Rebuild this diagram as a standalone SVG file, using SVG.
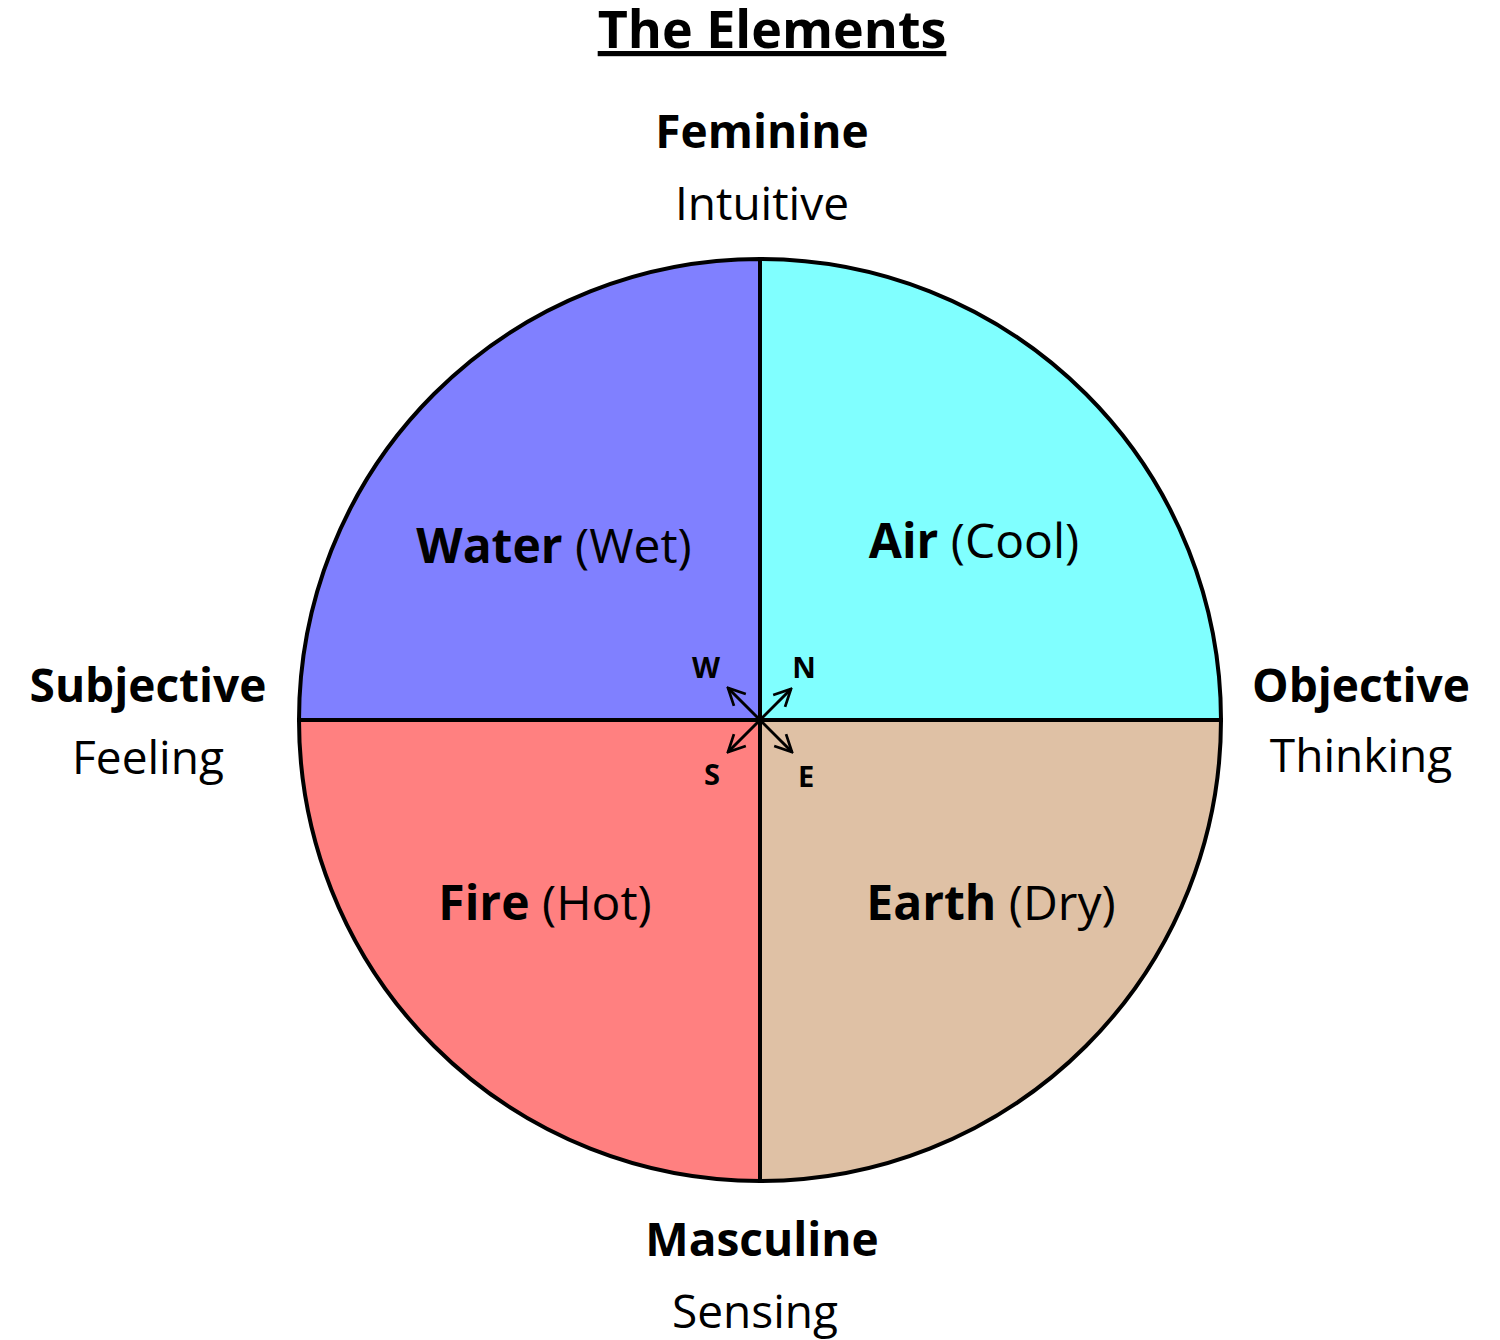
<svg xmlns="http://www.w3.org/2000/svg" width="1500" height="1340" viewBox="0 0 1500 1340">
<defs>
<style>
text{font-family:"Open Sans","Noto Sans",sans-serif;fill:#000;text-anchor:middle}
.b{font-weight:bold}
.big{font-size:48px}
.lab{font-size:46px}
.q{stroke:#000;stroke-width:4}
.ar{stroke:#000;stroke-width:3;fill:none}
</style>
<marker id="ah" viewBox="0 0 10 10" refX="9" refY="5" markerWidth="7" markerHeight="7" orient="auto"><path d="M1,1 L9,5 L1,9" fill="none" stroke="#000" stroke-width="1.3"/></marker>
</defs>
<text x="772" y="48" class="b" font-size="52" text-decoration="underline">The Elements</text>
<g id="water"><path class="q" d="M760,720 L299,720 A461,461 0 0 1 760,259 Z" fill="#8080ff"/><text x="554" y="563" class="big"><tspan class="b">Water</tspan> (Wet)</text></g>
<g id="air"><path class="q" d="M760,720 L760,259 A461,461 0 0 1 1221,720 Z" fill="#80ffff"/><text x="974" y="558" class="big"><tspan class="b">Air</tspan> (Cool)</text></g>
<g id="fire"><path class="q" d="M760,720 L760,1181 A461,461 0 0 1 299,720 Z" fill="#ff8080"/><text x="545" y="920" class="big"><tspan class="b">Fire</tspan> (Hot)</text></g>
<g id="earth"><path class="q" d="M760,720 L1221,720 A461,461 0 0 1 760,1181 Z" fill="#dfc1a5"/><text x="991" y="920" class="big"><tspan class="b">Earth</tspan> (Dry)</text></g>
<g id="connectors">
<line class="ar" x1="760" y1="720" x2="728" y2="688" marker-end="url(#ah)"/>
<line class="ar" x1="760" y1="720" x2="791" y2="689" marker-end="url(#ah)"/>
<line class="ar" x1="760" y1="720" x2="728" y2="752" marker-end="url(#ah)"/>
<line class="ar" x1="760" y1="720" x2="792" y2="752" marker-end="url(#ah)"/>
</g>
<g id="compass" font-size="29">
<text x="706" y="678" class="b">W</text><text x="804" y="678" class="b">N</text>
<text x="712" y="785" class="b">S</text><text x="806" y="787" class="b">E</text>
</g>
<g id="top"><text x="762" y="148" class="b lab">Feminine</text><text x="762" y="220" class="lab">Intuitive</text></g>
<g id="bottom"><text x="762" y="1256" class="b lab">Masculine</text><text x="755" y="1328" class="lab">Sensing</text></g>
<g id="left"><text x="148" y="702" class="b lab">Subjective</text><text x="148" y="774" class="lab">Feeling</text></g>
<g id="right"><text x="1361" y="702" class="b lab">Objective</text><text x="1361" y="772" class="lab">Thinking</text></g>
</svg>
